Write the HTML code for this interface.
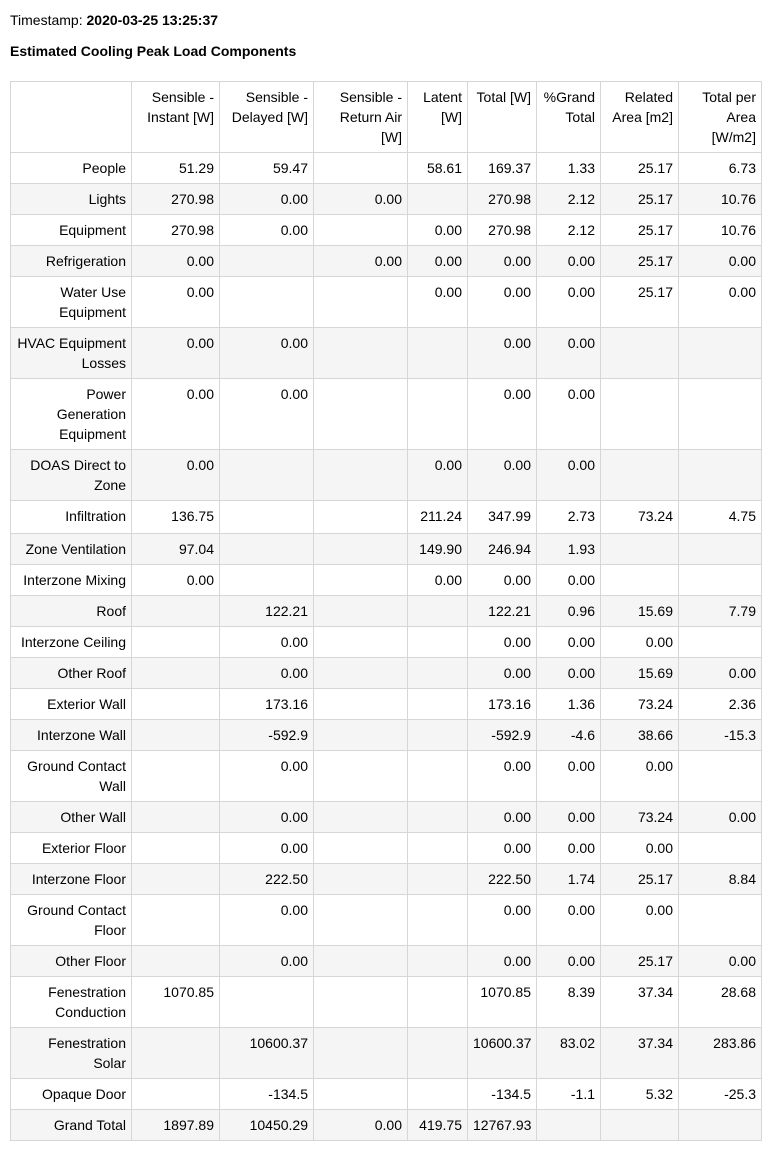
<!DOCTYPE html>
<html><head><meta charset="utf-8"><style>
body{margin:0;background:#fff;font-family:"Liberation Sans",Arial,sans-serif;font-size:14px;color:#000}
.ts{position:absolute;left:10px;top:10px;line-height:20px}
.tt{position:absolute;left:10px;top:41px;line-height:20px;font-weight:bold}
table{position:absolute;left:10px;top:81px;border-collapse:collapse;table-layout:fixed;width:751px}
td{border:1px solid #d6d6d6;padding:5px 5px 5px 5px;line-height:20px;vertical-align:top;text-align:right;overflow:hidden}
tr.g td{background:#f5f5f5}
</style></head><body>
<div class="ts">Timestamp: <b>2020-03-25 13:25:37</b></div>
<div class="tt">Estimated Cooling Peak Load Components</div>
<table>
<colgroup><col style="width:121px"><col style="width:88px"><col style="width:94px"><col style="width:94px"><col style="width:60px"><col style="width:69px"><col style="width:64px"><col style="width:78px"><col style="width:83px"></colgroup>
<tr style="height:71px"><td></td><td>Sensible - Instant [W]</td><td>Sensible - Delayed [W]</td><td>Sensible - Return Air [W]</td><td>Latent [W]</td><td>Total [W]</td><td>%Grand Total</td><td>Related Area [m2]</td><td>Total per Area [W/m2]</td></tr>
<tr><td>People</td><td>51.29</td><td>59.47</td><td></td><td>58.61</td><td>169.37</td><td>1.33</td><td>25.17</td><td>6.73</td></tr>
<tr class="g"><td>Lights</td><td>270.98</td><td>0.00</td><td>0.00</td><td></td><td>270.98</td><td>2.12</td><td>25.17</td><td>10.76</td></tr>
<tr><td>Equipment</td><td>270.98</td><td>0.00</td><td></td><td>0.00</td><td>270.98</td><td>2.12</td><td>25.17</td><td>10.76</td></tr>
<tr class="g"><td>Refrigeration</td><td>0.00</td><td></td><td>0.00</td><td>0.00</td><td>0.00</td><td>0.00</td><td>25.17</td><td>0.00</td></tr>
<tr><td>Water Use Equipment</td><td>0.00</td><td></td><td></td><td>0.00</td><td>0.00</td><td>0.00</td><td>25.17</td><td>0.00</td></tr>
<tr class="g"><td>HVAC Equipment Losses</td><td>0.00</td><td>0.00</td><td></td><td></td><td>0.00</td><td>0.00</td><td></td><td></td></tr>
<tr><td>Power Generation Equipment</td><td>0.00</td><td>0.00</td><td></td><td></td><td>0.00</td><td>0.00</td><td></td><td></td></tr>
<tr class="g"><td>DOAS Direct to Zone</td><td>0.00</td><td></td><td></td><td>0.00</td><td>0.00</td><td>0.00</td><td></td><td></td></tr>
<tr style="height:33px"><td>Infiltration</td><td>136.75</td><td></td><td></td><td>211.24</td><td>347.99</td><td>2.73</td><td>73.24</td><td>4.75</td></tr>
<tr class="g"><td>Zone Ventilation</td><td>97.04</td><td></td><td></td><td>149.90</td><td>246.94</td><td>1.93</td><td></td><td></td></tr>
<tr><td>Interzone Mixing</td><td>0.00</td><td></td><td></td><td>0.00</td><td>0.00</td><td>0.00</td><td></td><td></td></tr>
<tr class="g"><td>Roof</td><td></td><td>122.21</td><td></td><td></td><td>122.21</td><td>0.96</td><td>15.69</td><td>7.79</td></tr>
<tr><td>Interzone Ceiling</td><td></td><td>0.00</td><td></td><td></td><td>0.00</td><td>0.00</td><td>0.00</td><td></td></tr>
<tr class="g"><td>Other Roof</td><td></td><td>0.00</td><td></td><td></td><td>0.00</td><td>0.00</td><td>15.69</td><td>0.00</td></tr>
<tr><td>Exterior Wall</td><td></td><td>173.16</td><td></td><td></td><td>173.16</td><td>1.36</td><td>73.24</td><td>2.36</td></tr>
<tr class="g"><td>Interzone Wall</td><td></td><td>-592.9</td><td></td><td></td><td>-592.9</td><td>-4.6</td><td>38.66</td><td>-15.3</td></tr>
<tr><td>Ground Contact Wall</td><td></td><td>0.00</td><td></td><td></td><td>0.00</td><td>0.00</td><td>0.00</td><td></td></tr>
<tr class="g"><td>Other Wall</td><td></td><td>0.00</td><td></td><td></td><td>0.00</td><td>0.00</td><td>73.24</td><td>0.00</td></tr>
<tr><td>Exterior Floor</td><td></td><td>0.00</td><td></td><td></td><td>0.00</td><td>0.00</td><td>0.00</td><td></td></tr>
<tr class="g"><td>Interzone Floor</td><td></td><td>222.50</td><td></td><td></td><td>222.50</td><td>1.74</td><td>25.17</td><td>8.84</td></tr>
<tr><td>Ground Contact Floor</td><td></td><td>0.00</td><td></td><td></td><td>0.00</td><td>0.00</td><td>0.00</td><td></td></tr>
<tr class="g"><td>Other Floor</td><td></td><td>0.00</td><td></td><td></td><td>0.00</td><td>0.00</td><td>25.17</td><td>0.00</td></tr>
<tr><td>Fenestration Conduction</td><td>1070.85</td><td></td><td></td><td></td><td>1070.85</td><td>8.39</td><td>37.34</td><td>28.68</td></tr>
<tr class="g"><td>Fenestration Solar</td><td></td><td>10600.37</td><td></td><td></td><td>10600.37</td><td>83.02</td><td>37.34</td><td>283.86</td></tr>
<tr><td>Opaque Door</td><td></td><td>-134.5</td><td></td><td></td><td>-134.5</td><td>-1.1</td><td>5.32</td><td>-25.3</td></tr>
<tr class="g"><td>Grand Total</td><td>1897.89</td><td>10450.29</td><td>0.00</td><td>419.75</td><td>12767.93</td><td></td><td></td><td></td></tr>
</table>
</body></html>
